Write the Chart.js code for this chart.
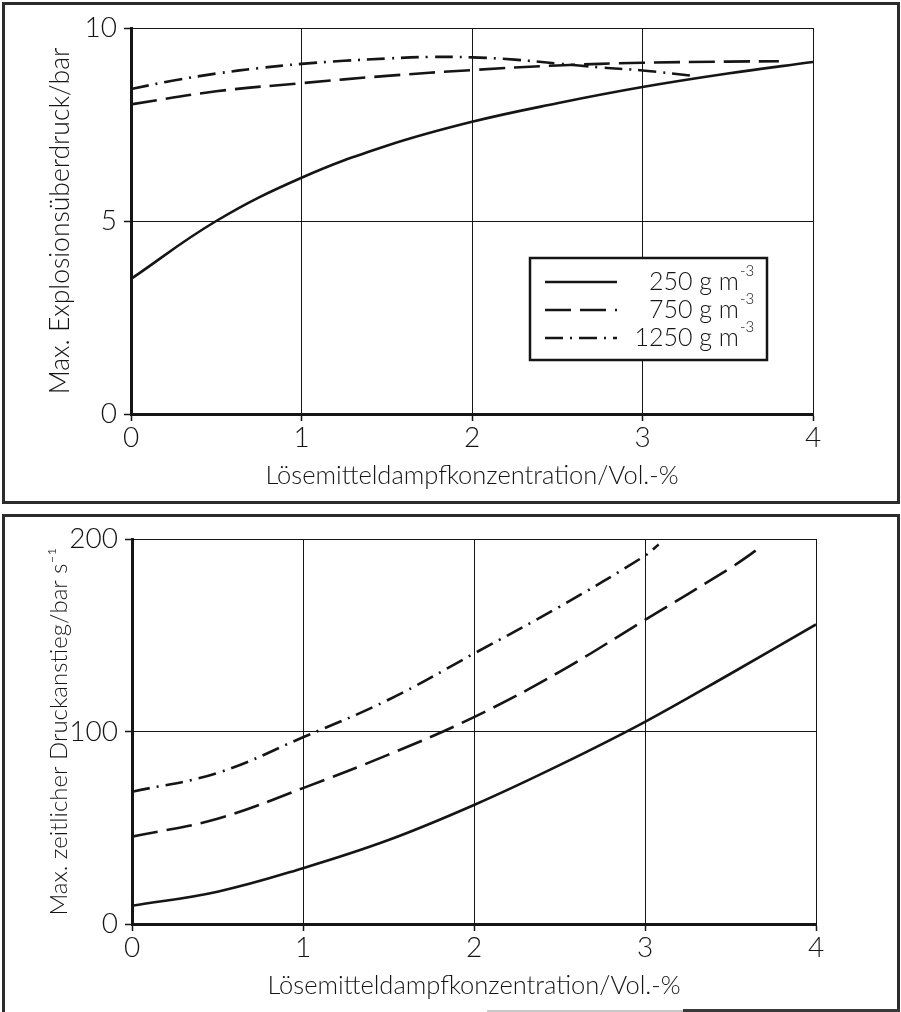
<!DOCTYPE html>
<html><head><meta charset="utf-8">
<script src="https://cdn.jsdelivr.net/npm/chart.js@4"></script>
<style>
html,body{margin:0;padding:0;background:#fff;width:901px;height:1012px;overflow:hidden;position:relative;}
canvas{position:absolute;left:0;}
#c1{top:0;}
#c2{top:508px;}
.frame{position:absolute;border:3px solid #2b2b2b;box-sizing:border-box;pointer-events:none;}
.hl{position:absolute;pointer-events:none;}
</style></head><body>
<canvas id="c1" width="901" height="508"></canvas>
<canvas id="c2" width="901" height="504"></canvas>
<div class="frame" style="left:2px;top:2px;width:898px;height:502px"></div>
<div class="frame" style="left:2px;top:514px;width:898px;height:510px;border-bottom:none"></div>
<div class="hl" style="left:487px;top:1010px;width:196px;height:2px;background:#c8c8c8"></div>
<div class="hl" style="left:683px;top:1009px;width:217px;height:3px;background:#3a3a3a"></div>
<script>
// ---------- data ----------
const xTickValues = [0, 1, 2, 3, 4];
const yTopTicks = [0, 5, 10];
const yBottomTicks = [0, 100, 200];

const xTitle = 'Lösemitteldampfkonzentration/Vol.-%';
const yTitleTop = 'Max. Explosionsüberdruck/bar';
const yTitleBottom = 'Max. zeitlicher Druckanstieg/bar s⁻¹';

const labelBase = ['250 g m', '750 g m', '1250 g m'];
const labelSup = '-3';

// top chart: max. explosion overpressure (bar)
const xTop250 = [0, 0.5, 1, 1.5, 2, 2.5, 3, 3.5, 4];
const pTop250 = [3.5, 5.0, 6.12, 6.95, 7.57, 8.05, 8.47, 8.82, 9.12];
const xTop750 = [0, 0.5, 1, 1.5, 2, 2.5, 3, 3.5, 3.8];
const pTop750 = [8.02, 8.36, 8.57, 8.76, 8.91, 9.03, 9.1, 9.13, 9.14];
const xTop1250 = [0, 0.25, 0.5, 0.75, 1, 1.25, 1.5, 1.75, 2, 2.25, 2.5, 2.75, 3, 3.3];
const pTop1250 = [8.42, 8.64, 8.82, 8.96, 9.07, 9.15, 9.21, 9.25, 9.24, 9.18, 9.08, 8.98, 8.9, 8.76];

// bottom chart: max. rate of pressure rise (bar/s)
const xBot250 = [0, 0.5, 1, 1.5, 2, 2.5, 3, 3.5, 4];
const rBot250 = [9.5, 16.8, 29, 43.6, 61.8, 82.5, 105, 130, 155.6];
const xBot750 = [0, 0.5, 1, 1.5, 2, 2.5, 3, 3.5, 3.69];
const rBot750 = [45.4, 54.7, 70.6, 88, 107.5, 131, 158, 185, 196.6];
const xBot1250 = [0, 0.5, 1, 1.5, 2, 2.5, 3, 3.08];
const rBot1250 = [68.7, 78.5, 97, 116.5, 140.5, 164.8, 191.3, 197.2];

// ---------- styles ----------
const FONT = "Lato, 'Open Sans', 'DejaVu Sans', sans-serif";
const INK = '#151515';
const dashes = [[], [26, 9], [18, 7, 2, 7]];

const pts = (xs, ys) => xs.map((x, i) => ({x: x, y: ys[i]}));

const legendPlugin = {
  id: 'boxLegend',
  afterDraw(chart, args, o) {
    if (!o || !o.show) return;
    const ctx = chart.ctx;
    ctx.save();
    ctx.fillStyle = '#fff';
    ctx.fillRect(o.left, o.top, o.right - o.left, o.bottom - o.top);
    ctx.strokeStyle = INK;
    ctx.lineWidth = 2.5;
    ctx.strokeRect(o.left, o.top, o.right - o.left, o.bottom - o.top);
    chart.data.datasets.forEach((ds, i) => {
      const y = o.rowY0 + i * o.rowGap;
      ctx.beginPath();
      ctx.setLineDash(ds.borderDash || []);
      ctx.lineWidth = ds.borderWidth;
      ctx.strokeStyle = ds.borderColor;
      ctx.moveTo(o.sampleX0, y);
      ctx.lineTo(o.sampleX1, y);
      ctx.stroke();
      ctx.setLineDash([]);
      ctx.fillStyle = INK;
      ctx.font = '300 25px ' + FONT;
      ctx.textAlign = 'right';
      ctx.textBaseline = 'alphabetic';
      ctx.fillText(labelBase[i], o.textRight, y + 8);
      ctx.font = '300 15px ' + FONT;
      ctx.textAlign = 'left';
      ctx.fillText(labelSup, o.textRight + 1, y - 6);
    });
    ctx.restore();
  }
};

function makeChart(id, datasets, yTicks, yMin, yMax, yTitle, yTitleSize, lay, legendOpts) {
  const ticksOf = arr => function (scale) { scale.ticks = arr.map(v => ({value: v})); };
  return new Chart(document.getElementById(id), {
    type: 'line',
    data: {datasets: datasets},
    plugins: [legendPlugin],
    options: {
      responsive: false,
      devicePixelRatio: 1,
      animation: false,
      layout: {padding: {left: 0, top: lay.top, right: lay.right, bottom: lay.bottom}},
      plugins: {
        legend: {display: false},
        tooltip: {enabled: false},
        boxLegend: legendOpts
      },
      elements: {point: {radius: 0}},
      scales: {
        x: {
          type: 'linear', min: 0, max: 4,
          afterBuildTicks: ticksOf(xTickValues),
          afterFit(s) { s.height = 80; },
          grid: {color: INK, lineWidth: 1, tickLength: 7, tickColor: INK, tickWidth: 1.5},
          border: {color: INK, width: 3},
          ticks: {color: INK, font: {family: FONT, size: 28, weight: 300}, padding: 0, maxRotation: 0},
          title: {display: true, text: xTitle, color: INK, font: {family: FONT, size: 25.5, weight: 300}, padding: {top: 0, bottom: 3}}
        },
        y: {
          type: 'linear', min: yMin, max: yMax,
          afterBuildTicks: ticksOf(yTicks),
          afterFit(s) { s.width = lay.left; },
          grid: {color: INK, lineWidth: 1, tickLength: 7, tickColor: INK, tickWidth: 1.5},
          border: {color: INK, width: 3},
          ticks: {color: INK, font: {family: FONT, size: 28, weight: 300}, padding: 7},
          title: {display: true, text: yTitle, color: INK, font: {family: FONT, size: yTitleSize, weight: 300}, padding: {top: 45, bottom: 0}}
        }
      }
    }
  });
}

const lineDs = (label, data, i) => ({
  label: label, data: data, borderColor: INK, borderWidth: 2.6,
  borderDash: dashes[i], fill: false, tension: 0.4, pointRadius: 0
});

makeChart('c1', [
  lineDs(labelBase[0] + '⁻³', pts(xTop250, pTop250), 0),
  lineDs(labelBase[1] + '⁻³', pts(xTop750, pTop750), 1),
  lineDs(labelBase[2] + '⁻³', pts(xTop1250, pTop1250), 2)
], yTopTicks, 0, 10, yTitleTop, 26.5, {left: 131, top: 28, right: 88, bottom: 14},
{show: true, left: 530, top: 258, right: 767, bottom: 360, rowY0: 282, rowGap: 28, sampleX0: 545, sampleX1: 617, textRight: 739});

makeChart('c2', [
  lineDs(labelBase[0] + '⁻³', pts(xBot250, rBot250), 0),
  lineDs(labelBase[1] + '⁻³', pts(xBot750, rBot750), 1),
  lineDs(labelBase[2] + '⁻³', pts(xBot1250, rBot1250), 2)
], yBottomTicks, 0, 200, yTitleBottom, 24, {left: 132, top: 31, right: 85, bottom: 8},
{show: false});
</script>
</body></html>
